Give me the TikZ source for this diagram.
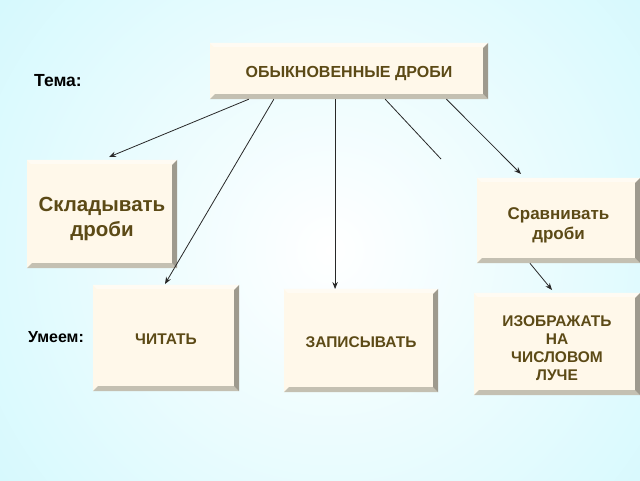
\documentclass[tikz,border=0pt]{standalone}
\usepackage{fontspec}
\setmainfont{Liberation Sans}
\usetikzlibrary{arrows.meta,calc}
\definecolor{face}{RGB}{255,248,234}
\definecolor{bevR}{RGB}{158,154,142}
\definecolor{bevB}{RGB}{196,192,178}
\definecolor{bevT}{RGB}{255,251,243}
\definecolor{txt}{RGB}{92,74,22}
\definecolor{bgout}{RGB}{182,244,252}
\definecolor{ln}{RGB}{40,40,40}
\newcommand{\btxt}[2]{\vbox to 0pt{\vss\hbox{\begin{tabular}{@{}c@{}}#2\end{tabular}}\vss\kern-2\dimexpr#1\relax}}
\begin{document}
\begin{tikzpicture}[x=1pt,y=-1pt,
  bbox/.style={rectangle, inner sep=0pt, fill=face, text=txt},
  lbl/.style={inner sep=0pt, text=black},
  conn/.style={draw=ln, line width=0.8pt},
  arr/.style={conn, -{Stealth[length=7pt,width=5.5pt]}}]
\useasboundingbox (0,0) rectangle (640,480);
\begin{scope}
\clip (0,0) rectangle (640,480);
\shade[inner color=white, outer color=bgout] (330,250) circle (730);
\end{scope}

\node[lbl, font=\bfseries\fontsize{17.5}{20}\selectfont] (tema) at (58,81) {Тема:};
\node[lbl, font=\bfseries\fontsize{16}{19}\selectfont] (umeem) at (56,337) {Умеем:};

\node[bbox, minimum width=278pt, minimum height=56pt, font=\bfseries\fontsize{16}{19}\selectfont] (top) at (349,71) {\btxt{3pt}{ОБЫКНОВЕННЫЕ ДРОБИ}};
\node[bbox, minimum width=150pt, minimum height=108pt, font=\bfseries\fontsize{20.5}{25}\selectfont] (sk) at (102,214) {\btxt{5pt}{Складывать\\дроби}};
\node[bbox, minimum width=163pt, minimum height=85pt, font=\bfseries\fontsize{17}{20}\selectfont] (sr) at (558.5,220.5) {\btxt{5pt}{Сравнивать\\дроби}};
\node[bbox, minimum width=146pt, minimum height=106pt, font=\bfseries\fontsize{15.5}{18}\selectfont] (ch) at (166,338) {\btxt{3pt}{ЧИТАТЬ}};
\node[bbox, minimum width=154pt, minimum height=103pt, font=\bfseries\fontsize{15.5}{18}\selectfont] (zp) at (361,340.5) {\btxt{3.5pt}{ЗАПИСЫВАТЬ}};
\node[bbox, minimum width=166pt, minimum height=102pt, font=\bfseries\fontsize{15.5}{18}\selectfont] (iz) at (557,344) {\btxt{6pt}{ИЗОБРАЖАТЬ\\НА\\ЧИСЛОВОМ\\ЛУЧЕ}};

\foreach \n in {top,sk,sr,ch,zp,iz}{
  \fill[bevT] (\n.north west) -- (\n.north east) -- ($(\n.north east)+(-4,4)$) -- ($(\n.north west)+(4,4)$) -- cycle;
  \fill[bevB] (\n.south west) -- (\n.south east) -- ($(\n.south east)+(-5,-5)$) -- ($(\n.south west)+(5,-5)$) -- cycle;
  \fill[bevR] (\n.north east) -- (\n.south east) -- ($(\n.south east)+(-5,-5)$) -- ($(\n.north east)+(-5,5)$) -- cycle;
}

\coordinate (s1) at ($(top.south west)!0.14!(top.south east)$);
\coordinate (s2) at ($(top.south west)!0.23!(top.south east)$);
\coordinate (s3) at ($(top.south west)!0.45!(top.south east)$);
\coordinate (s4) at ($(top.south west)!0.63!(top.south east)$);
\coordinate (s5) at ($(top.south west)!0.85!(top.south east)$);
\coordinate (s6) at ($(sr.south west)!0.325!(sr.south east)$);
\coordinate (t1) at (109,157);
\coordinate (t2) at (165,284);
\coordinate (t3) at (s3 |- 0,289);
\coordinate (t4) at (441,159);
\coordinate (t5) at (521,174);
\coordinate (t6) at (552,290);

\draw[arr] (s1) -- (t1);
\draw[arr] (s2) -- (t2);
\draw[arr] (s3) -- (t3);
\draw[conn] (s4) -- (t4);
\draw[arr] (s5) -- (t5);
\draw[arr] (s6) -- (t6);
\end{tikzpicture}
\end{document}
